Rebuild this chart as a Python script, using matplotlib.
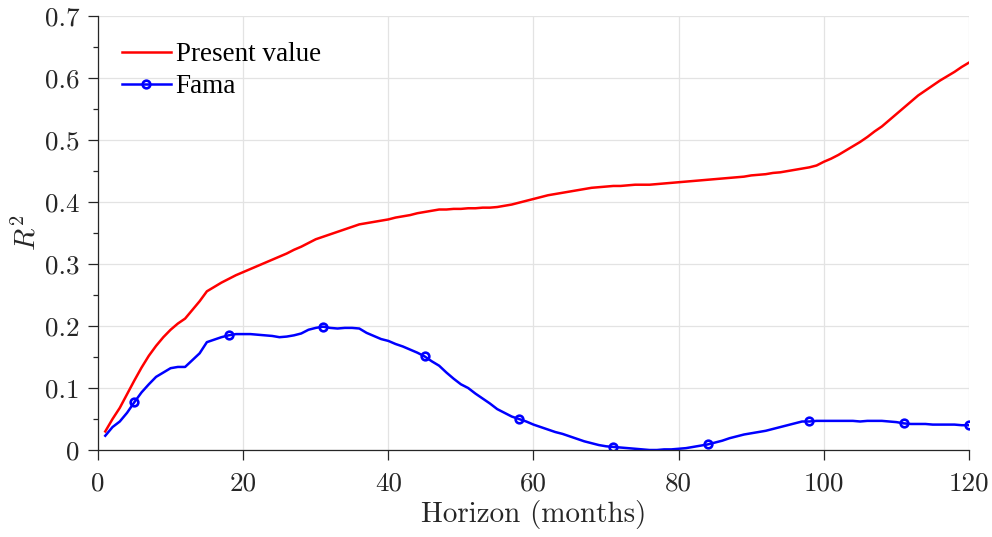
import numpy as np
import matplotlib
matplotlib.use("Agg")
import matplotlib.pyplot as plt
from matplotlib.ticker import MultipleLocator, FuncFormatter

# MATLAB LaTeX-interpreter look: Computer Modern for axes, Times for legend
plt.rcParams['font.family'] = ['cmr10', 'DejaVu Serif']
plt.rcParams['mathtext.fontset'] = 'cm'
plt.rcParams['axes.unicode_minus'] = False

months = np.arange(1, 121)

present_value = [
    0.030, 0.050, 0.068, 0.090, 0.112, 0.133, 0.152, 0.168, 0.182, 0.194,
    0.204, 0.212, 0.226, 0.240, 0.256, 0.263, 0.270, 0.276, 0.282, 0.287,
    0.292, 0.297, 0.302, 0.307, 0.312, 0.317, 0.323, 0.328, 0.334, 0.340,
    0.344, 0.348, 0.352, 0.356, 0.360, 0.364, 0.366, 0.368, 0.370, 0.372,
    0.375, 0.377, 0.379, 0.382, 0.384, 0.386, 0.388, 0.388, 0.389, 0.389,
    0.390, 0.390, 0.391, 0.391, 0.392, 0.394, 0.396, 0.399, 0.402, 0.405,
    0.408, 0.411, 0.413, 0.415, 0.417, 0.419, 0.421, 0.423, 0.424, 0.425,
    0.426, 0.426, 0.427, 0.428, 0.428, 0.428, 0.429, 0.430, 0.431, 0.432,
    0.433, 0.434, 0.435, 0.436, 0.437, 0.438, 0.439, 0.440, 0.441, 0.443,
    0.444, 0.445, 0.447, 0.448, 0.450, 0.452, 0.454, 0.456, 0.459, 0.465,
    0.470, 0.476, 0.483, 0.490, 0.497, 0.505, 0.514, 0.522, 0.532, 0.542,
    0.552, 0.562, 0.572, 0.580, 0.588, 0.596, 0.603, 0.610, 0.618, 0.625,
]

fama = [
    0.023, 0.037, 0.046, 0.060, 0.077, 0.093, 0.106, 0.118, 0.125, 0.132,
    0.134, 0.134, 0.145, 0.156, 0.174, 0.178, 0.182, 0.185, 0.187, 0.187,
    0.187, 0.186, 0.185, 0.184, 0.182, 0.183, 0.185, 0.188, 0.194, 0.197,
    0.199, 0.197, 0.196, 0.197, 0.197, 0.196, 0.189, 0.184, 0.179, 0.176,
    0.171, 0.167, 0.162, 0.157, 0.151, 0.143, 0.136, 0.125, 0.115, 0.106,
    0.100, 0.091, 0.083, 0.075, 0.066, 0.060, 0.054, 0.050, 0.046, 0.041,
    0.037, 0.033, 0.029, 0.026, 0.022, 0.018, 0.014, 0.011, 0.008, 0.006,
    0.005, 0.004, 0.003, 0.002, 0.001, 0.000, 0.000, 0.001, 0.001, 0.002,
    0.003, 0.005, 0.007, 0.009, 0.012, 0.015, 0.019, 0.022, 0.025, 0.027,
    0.029, 0.031, 0.034, 0.037, 0.040, 0.043, 0.046, 0.046, 0.047, 0.047,
    0.047, 0.047, 0.047, 0.047, 0.046, 0.047, 0.047, 0.047, 0.046, 0.045,
    0.043, 0.042, 0.042, 0.042, 0.041, 0.041, 0.041, 0.041, 0.040, 0.040,
]

# months that carry a marker on the Fama line
marker_months = [5, 18, 31, 45, 58, 71, 84, 98, 111, 120]

fig = plt.figure(figsize=(9.92, 5.37), dpi=100)
ax = fig.add_axes([0.0988, 0.162, 0.878, 0.808])

ax.plot(months, present_value, color='#ff0000', lw=1.8, label='Present value')
ax.plot(months, fama, color='#0000ff', lw=1.8, marker='o', ms=5.5,
        mfc='none', mew=1.9, markevery=[m - 1 for m in marker_months], label='Fama')

ax.set_xlim(0, 120)
ax.set_ylim(0, 0.7)
ax.xaxis.set_major_locator(MultipleLocator(20))
ax.yaxis.set_major_locator(MultipleLocator(0.1))
ax.yaxis.set_minor_locator(MultipleLocator(0.05))
ax.yaxis.set_major_formatter(FuncFormatter(lambda v, p: '0' if abs(v) < 1e-9 else f'{v:g}'))

ax.grid(True, which='major', color='#e3e3e3', lw=0.9)
ax.set_axisbelow(True)
for s in ['top', 'right']:
    ax.spines[s].set_visible(False)
for s in ['left', 'bottom']:
    ax.spines[s].set_color('#262626')
    ax.spines[s].set_linewidth(0.9)

ax.tick_params(which='major', direction='out', length=7, width=0.9, color='#262626',
               labelsize=19.5, labelcolor='#262626')
ax.tick_params(axis='x', which='major', pad=9)
ax.tick_params(axis='y', which='major', pad=6)
ax.tick_params(which='minor', direction='out', length=3.5, width=0.9, color='#262626')

ax.set_xlabel('Horizon (months)', fontsize=21, color='#262626', labelpad=3)
ax.set_ylabel('$R^2$', fontsize=21, color='#262626', labelpad=3)

leg = ax.legend(loc='upper left', frameon=False, handlelength=1.8,
                handletextpad=0.18, labelspacing=0.26, borderaxespad=0, borderpad=0,
                bbox_to_anchor=(0.0276, 0.94),
                prop={'family': ['Liberation Serif'], 'size': 19.5})
for t in leg.get_texts():
    t.set_color('#000000')

fig.savefig('out.png', dpi=100)
